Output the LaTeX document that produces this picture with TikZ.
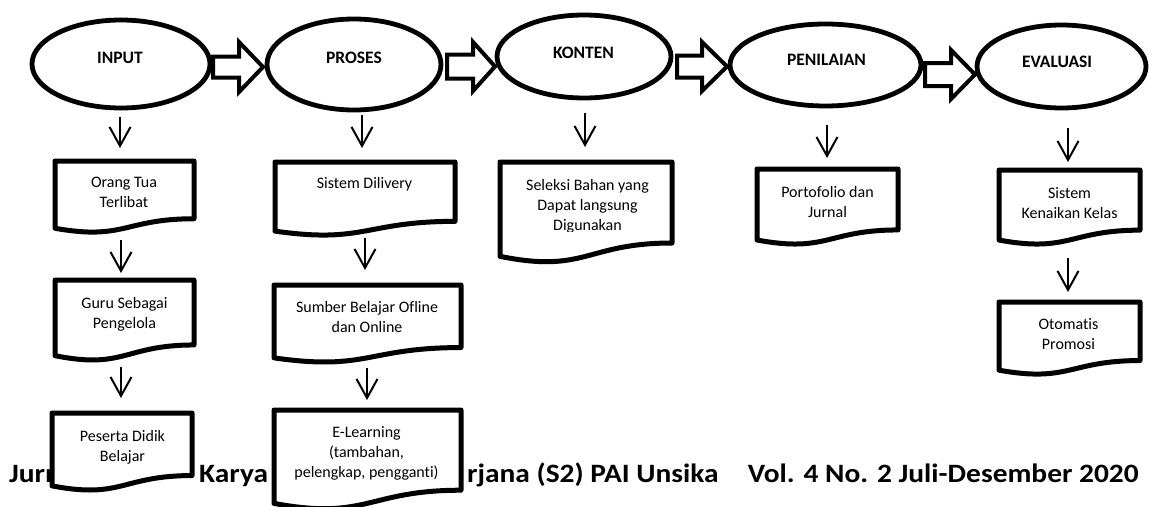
\documentclass[tikz,border=0pt]{standalone}
\usepackage{fontspec}
\setmainfont{Carlito}[Ligatures=NoCommon]
\usetikzlibrary{shapes.geometric,arrows.meta}

\tikzset{
  stage/.style={draw, ellipse, line width=4.8pt, fill=white, inner sep=0pt},
  stagetext/.style={anchor=base, inner sep=0pt, font=\fontsize{17.5}{21}\selectfont\bfseries},
  docline/.style={draw, line width=5pt, line join=round, fill=white},
  doctext/.style={anchor=base, inner sep=0pt, font=\fontsize{16}{20}\selectfont},
  fatarrow/.style={draw, line width=4pt, line join=miter, fill=white},
  flow/.style={line width=2pt, -{Straight Barb[length=19pt,width=21pt]}},
  footer/.style={anchor=base west, inner sep=0pt, font=\fontsize{26.5}{30}\selectfont\bfseries},
}

% document symbol: flat top, wavy bottom (#1 name, #2 left, #3 top, #4 right, #5 height)
\newcommand\docshape[5]{%
  \draw[docline] (#2,#3) -- (#4,#3) -- (#4,{#3+0.802*#5})
    .. controls ({(#2+#4)/2},{#3+0.802*#5}) and ({(#2+#4)/2},{#3+1.107*#5}) ..
    (#2,{#3+0.934*#5}) -- cycle;
  \coordinate (#1) at ({(#2+#4)/2},#3);
}
% hollow block arrow (#1 shaft start, #2 head start, #3 tip, #4 mid y, #5 shaft half, #6 head half)
\newcommand\fatarrowshape[6]{%
  \draw[fatarrow] (#1,{#4-#5}) -- (#2,{#4-#5}) -- (#2,{#4-#6}) -- (#3,#4)
    -- (#2,{#4+#6}) -- (#2,{#4+#5}) -- (#1,{#4+#5}) -- cycle;
}
\newcommand\twolines[2]{\begin{tabular}[t]{@{}c@{}}#1\\#2\end{tabular}}
\newcommand\threelines[3]{\begin{tabular}[t]{@{}c@{}}#1\\#2\\#3\end{tabular}}
% footer lettering is set slightly wide
\newcommand\widefoot[1]{\scalebox{1.11}[1]{#1}}

\begin{document}
\begin{tikzpicture}[x=1pt, y=-1pt]
\useasboundingbox (0,0) rectangle (1150,506);
\clip (0,0) rectangle (1150,506);

% running footer of the page
\node[footer] (f1) at (9,482) {\widefoot{Jurnal}};
\node[footer] (f2) at (199,482) {\widefoot{Karya}};
\node[footer] (f3) at (467,482) {\widefoot{rjana (S2) PAI Unsika}};
\node[footer, anchor=base east] (f4) at (1139,482) {\widefoot{Vol. 4 No. 2 Juli-Desember 2020}};

% stages
\node[stage, minimum width=178, minimum height=88] (input) at (121,64) {};
\node[stage, minimum width=174, minimum height=91] (proses) at (354,64.5) {};
\node[stage, minimum width=174, minimum height=83] (konten) at (584,56.5) {};
\node[stage, minimum width=191, minimum height=82] (penilaian) at (825.5,65) {};
\node[stage, minimum width=169, minimum height=83] (evaluasi) at (1061.5,66.5) {};

\node[stagetext] (tinput) at (120,63) {INPUT};
\node[stagetext] (tproses) at (354,63) {PROSES};
\node[stagetext] (tkonten) at (583.5,58) {KONTEN};
\node[stagetext] (tpenilaian) at (826.5,65) {PENILAIAN};
\node[stagetext] (tevaluasi) at (1057,67) {EVALUASI};

% block arrows between the stages
\fatarrowshape{213}{239}{263}{67}{10.5}{25}
\fatarrowshape{447}{473}{495}{66.5}{12}{24.5}
\fatarrowshape{677}{702}{727}{66.5}{11}{24.5}
\fatarrowshape{925}{951}{975}{74.5}{11.5}{24.5}

% INPUT column
\docshape{d11}{55}{161}{194}{72}
\node[doctext] (t11) at (124,187) {\twolines{Orang Tua}{Terlibat}};
\docshape{d12}{55}{280}{194}{81}
\node[doctext] (t12) at (124.5,308) {\twolines{Guru Sebagai}{Pengelola}};
\docshape{d13}{52}{413}{192}{78}
\node[doctext] (t13) at (122.5,441) {\twolines{Peserta Didik}{Belajar}};

% PROSES column
\docshape{d21}{275}{162}{455}{74}
\node[doctext] (t21) at (364.5,188) {Sistem Dilivery};
\docshape{d22}{274}{285}{461}{78}
\node[doctext] (t22) at (367,312) {\twolines{Sumber Belajar Ofline}{dan Online}};
\docshape{d23}{274}{410}{461}{100}
\node[doctext] (t23) at (366.5,437) {\threelines{E-Learning}{(tambahan,}{pelengkap, pengganti)}};

% KONTEN column
\docshape{d31}{500}{162}{672}{101}
\begin{scope}
  \clip (500,150) rectangle (672,231.5);
  \node[doctext] (t31) at (587.5,190) {\threelines{Seleksi Bahan yang}{Dapat langsung}{Digunakan}};
\end{scope}

% PENILAIAN column
\docshape{d41}{757}{169}{898}{76}
\node[doctext] (t41) at (827.5,197) {\twolines{Portofolio dan}{Jurnal}};

% EVALUASI column
\docshape{d51}{999}{170}{1140}{75}
\node[doctext] (t51) at (1069.5,198) {\twolines{Sistem}{Kenaikan Kelas}};
\docshape{d52}{999}{302}{1140}{73}
\node[doctext] (t52) at (1068.5,329) {\twolines{Otomatis}{Promosi}};

% downward flow arrows
\coordinate (a1s) at (120,117);  \coordinate (a1e) at (120,148);
\coordinate (a2s) at (121,240);  \coordinate (a2e) at (121,273);
\coordinate (a3s) at (121,367);  \coordinate (a3e) at (121,398);
\coordinate (b1s) at (362,115);  \coordinate (b1e) at (362,148);
\coordinate (b2s) at (365,238);  \coordinate (b2e) at (365,270);
\coordinate (b3s) at (367,368);  \coordinate (b3e) at (367,400);
\coordinate (c1s) at (585,113);  \coordinate (c1e) at (585,147);
\coordinate (p1s) at (827,125);  \coordinate (p1e) at (827,158);
\coordinate (e1s) at (1068,128); \coordinate (e1e) at (1068,162);
\coordinate (e2s) at (1068,258); \coordinate (e2e) at (1068,292);
\foreach \s/\e in {a1s/a1e,a2s/a2e,a3s/a3e,b1s/b1e,b2s/b2e,b3s/b3e,c1s/c1e,p1s/p1e,e1s/e1e,e2s/e2e}
  \draw[flow] (\s) -- (\e);
\end{tikzpicture}
\end{document}
